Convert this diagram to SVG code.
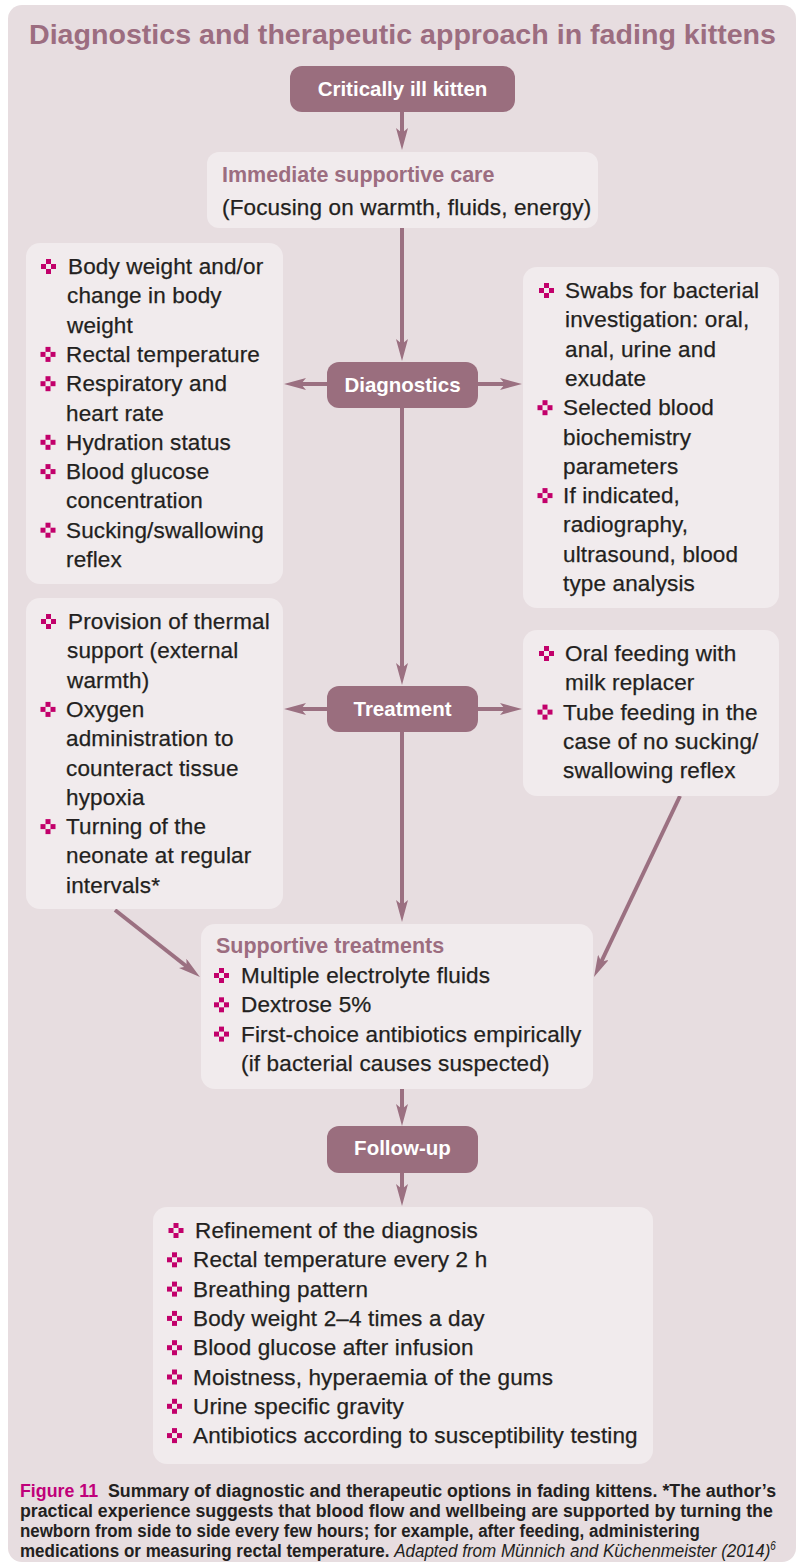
<svg xmlns="http://www.w3.org/2000/svg" xmlns:xlink="http://www.w3.org/1999/xlink" width="798" height="1567" viewBox="0 0 798 1567">
<style>
.bg{fill:#e7dde0}
.box{fill:#f1ebed}
.node{fill:#9a6e7e}
.ntxt{font-family:"Liberation Sans",Arial,sans-serif;font-size:20.5px;font-weight:bold;fill:#ffffff;text-anchor:middle}
.t{font-family:"Liberation Sans",Arial,sans-serif;font-size:22.5px;letter-spacing:0.15px;fill:#231f20;stroke:#231f20;stroke-width:0.25}
.h{font-family:"Liberation Sans",Arial,sans-serif;font-size:21.5px;font-weight:bold;fill:#9c6d80}
.title{font-family:"Liberation Sans",Arial,sans-serif;font-size:28px;font-weight:bold;fill:#9c6d80}
.cap{font-family:"Liberation Sans",Arial,sans-serif;font-size:18.5px;font-weight:bold;fill:#231f20}
.conn line{stroke:#9b7081;stroke-width:4;fill:none}
.bul{fill:#c2006b}
</style>
<defs>
<marker id="ah" viewBox="0 0 22 12" refX="12" refY="6" markerWidth="22" markerHeight="12" markerUnits="userSpaceOnUse" orient="auto">
<path d="M0,0 L22,6 L0,12 L5,6 z" fill="#9b7081"/>
</marker>
<g id="b" class="bul">
<rect x="-2.5" y="-7.5" width="5" height="5"/>
<rect x="-7.5" y="-2.5" width="5" height="5"/>
<rect x="2.5" y="-2.5" width="5" height="5"/>
<rect x="-2.5" y="2.5" width="5" height="5"/>
</g>
</defs>

<rect class="bg" x="8" y="5" width="788" height="1557" rx="14"/>
<text class="title" x="29" y="44" textLength="747" lengthAdjust="spacingAndGlyphs">Diagnostics and therapeutic approach in fading kittens</text>

<g class="conn" id="connectors">
<line x1="402" y1="112" x2="402" y2="140" marker-end="url(#ah)"/>
<line x1="402" y1="228" x2="402" y2="351" marker-end="url(#ah)"/>
<line x1="327" y1="384" x2="294" y2="384" marker-end="url(#ah)"/>
<line x1="478" y1="384" x2="512" y2="384" marker-end="url(#ah)"/>
<line x1="402" y1="408" x2="402" y2="675" marker-end="url(#ah)"/>
<line x1="327" y1="709" x2="294" y2="709" marker-end="url(#ah)"/>
<line x1="478" y1="709" x2="512" y2="709" marker-end="url(#ah)"/>
<line x1="402" y1="732" x2="402" y2="912" marker-end="url(#ah)"/>
<line x1="115" y1="910" x2="192.1" y2="970.8" marker-end="url(#ah)"/>
<line x1="680" y1="796" x2="598.3" y2="968" marker-end="url(#ah)"/>
<line x1="402" y1="1089" x2="402" y2="1116" marker-end="url(#ah)"/>
<line x1="402" y1="1173" x2="402" y2="1196" marker-end="url(#ah)"/>
</g>

<g id="critically-ill-kitten">
<rect class="node" x="290" y="66" width="225" height="46" rx="12"/>
<text class="ntxt" x="402.5" y="96">Critically ill kitten</text>
</g>

<g id="immediate-care">
<rect class="box" x="207" y="152" width="391" height="76" rx="12"/>
<text class="h" x="222" y="182">Immediate supportive care</text>
<text class="t" x="222" y="215">(Focusing on warmth, fluids, energy)</text>
</g>

<g id="diagnostics">
<rect class="node" x="327" y="362" width="151" height="46" rx="12"/>
<text class="ntxt" x="402.5" y="392">Diagnostics</text>
</g>

<g id="diag-left">
<rect class="box" x="26" y="243" width="257" height="341" rx="14"/>
<use href="#b" x="48.5" y="266.5"/>
<use href="#b" x="48" y="354.4"/>
<use href="#b" x="48" y="383.7"/>
<use href="#b" x="48" y="442.3"/>
<use href="#b" x="48" y="471.6"/>
<use href="#b" x="48" y="530.2"/>
<text class="t" x="68" y="274">Body weight and/or</text>
<text class="t" x="67" y="303.3">change in body</text>
<text class="t" x="67" y="332.6">weight</text>
<text class="t" x="66" y="361.9">Rectal temperature</text>
<text class="t" x="66" y="391.2">Respiratory and</text>
<text class="t" x="66" y="420.5">heart rate</text>
<text class="t" x="66" y="449.8">Hydration status</text>
<text class="t" x="66" y="479.1">Blood glucose</text>
<text class="t" x="66" y="508.4">concentration</text>
<text class="t" x="66" y="537.7">Sucking/swallowing</text>
<text class="t" x="66" y="567">reflex</text>
</g>

<g id="diag-right">
<rect class="box" x="523" y="267" width="256" height="341" rx="14"/>
<use href="#b" x="546.5" y="290.5"/>
<use href="#b" x="545" y="407.7"/>
<use href="#b" x="545" y="495.6"/>
<text class="t" x="565" y="298">Swabs for bacterial</text>
<text class="t" x="565" y="327.3">investigation: oral,</text>
<text class="t" x="565" y="356.6">anal, urine and</text>
<text class="t" x="565" y="385.9">exudate</text>
<text class="t" x="563" y="415.2">Selected blood</text>
<text class="t" x="563" y="444.5">biochemistry</text>
<text class="t" x="563" y="473.8">parameters</text>
<text class="t" x="563" y="503.1">If indicated,</text>
<text class="t" x="563" y="532.4">radiography,</text>
<text class="t" x="563" y="561.7">ultrasound, blood</text>
<text class="t" x="563" y="591">type analysis</text>
</g>

<g id="treatment">
<rect class="node" x="327" y="686" width="151" height="46" rx="12"/>
<text class="ntxt" x="402.5" y="716">Treatment</text>
</g>

<g id="treat-left">
<rect class="box" x="26" y="598" width="257" height="311" rx="14"/>
<use href="#b" x="48.5" y="621.5"/>
<use href="#b" x="48" y="709.4"/>
<use href="#b" x="48" y="826.6"/>
<text class="t" x="68" y="629">Provision of thermal</text>
<text class="t" x="67" y="658.3">support (external</text>
<text class="t" x="67" y="687.6">warmth)</text>
<text class="t" x="66" y="716.9">Oxygen</text>
<text class="t" x="66" y="746.2">administration to</text>
<text class="t" x="66" y="775.5">counteract tissue</text>
<text class="t" x="66" y="804.8">hypoxia</text>
<text class="t" x="66" y="834.1">Turning of the</text>
<text class="t" x="66" y="863.4">neonate at regular</text>
<text class="t" x="66" y="892.7">intervals*</text>
</g>

<g id="treat-right">
<rect class="box" x="523" y="630" width="256" height="166" rx="14"/>
<use href="#b" x="546.5" y="653.5"/>
<use href="#b" x="545" y="712.1"/>
<text class="t" x="565" y="661">Oral feeding with</text>
<text class="t" x="565" y="690.3">milk replacer</text>
<text class="t" x="563" y="719.6">Tube feeding in the</text>
<text class="t" x="563" y="748.9">case of no sucking/</text>
<text class="t" x="563" y="778.2">swallowing reflex</text>
</g>

<g id="supportive-treatments">
<rect class="box" x="201" y="924" width="392" height="165" rx="14"/>
<text class="h" x="216" y="953">Supportive treatments</text>
<use href="#b" x="221.5" y="975.5"/>
<use href="#b" x="221.5" y="1004.8"/>
<use href="#b" x="221.5" y="1034.1"/>
<text class="t" x="241" y="983">Multiple electrolyte fluids</text>
<text class="t" x="241" y="1012.3">Dextrose 5%</text>
<text class="t" x="241" y="1041.6">First-choice antibiotics empirically</text>
<text class="t" x="241" y="1070.9">(if bacterial causes suspected)</text>
</g>

<g id="follow-up">
<rect class="node" x="327" y="1126" width="151" height="47" rx="12"/>
<text class="ntxt" x="402.5" y="1155">Follow-up</text>
</g>

<g id="follow-up-list">
<rect class="box" x="153" y="1207" width="500" height="257" rx="14"/>
<use href="#b" x="176" y="1230.5"/>
<use href="#b" x="174.5" y="1259.8"/>
<use href="#b" x="174.5" y="1289.1"/>
<use href="#b" x="174.5" y="1318.4"/>
<use href="#b" x="174.5" y="1347.7"/>
<use href="#b" x="174.5" y="1377"/>
<use href="#b" x="174.5" y="1406.3"/>
<use href="#b" x="174.5" y="1435.6"/>
<text class="t" x="195" y="1238">Refinement of the diagnosis</text>
<text class="t" x="193" y="1267.3">Rectal temperature every 2 h</text>
<text class="t" x="193" y="1296.6">Breathing pattern</text>
<text class="t" x="193" y="1325.9">Body weight 2–4 times a day</text>
<text class="t" x="193" y="1355.2">Blood glucose after infusion</text>
<text class="t" x="193" y="1384.5">Moistness, hyperaemia of the gums</text>
<text class="t" x="193" y="1413.8">Urine specific gravity</text>
<text class="t" x="193" y="1443.1">Antibiotics according to susceptibility testing</text>
</g>

<g id="caption" transform="translate(20,0) scale(0.82,1)">
<text class="cap" x="0" y="1497" textLength="922" lengthAdjust="spacingAndGlyphs"><tspan fill="#c0007a">Figure 11</tspan>&#160; Summary of diagnostic and therapeutic options in fading kittens. *The author’s</text>
<text class="cap" x="0" y="1517" textLength="918" lengthAdjust="spacingAndGlyphs">practical experience suggests that blood flow and wellbeing are supported by turning the</text>
<text class="cap" x="0" y="1537" textLength="829" lengthAdjust="spacingAndGlyphs">newborn from side to side every few hours; for example, after feeding, administering</text>
<text class="cap" x="0" y="1557" textLength="915" lengthAdjust="spacingAndGlyphs">medications or measuring rectal temperature. <tspan font-weight="normal" font-style="italic">Adapted from Münnich and Küchenmeister (2014)</tspan></text>
<text x="915" y="1550" font-family="Liberation Sans, Arial, sans-serif" font-style="italic" font-size="12" fill="#231f20">6</text>
</g>
</svg>
